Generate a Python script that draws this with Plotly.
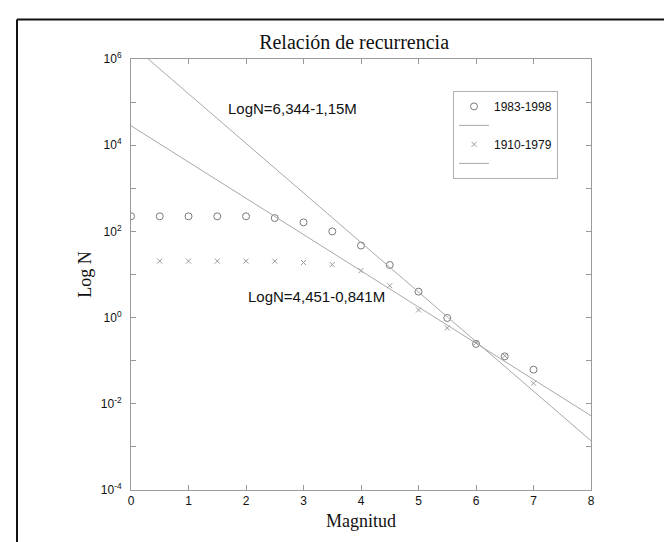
import plotly.graph_objects as go

# ---- data ----
mag_1983 = [0, 0.5, 1, 1.5, 2, 2.5, 3, 3.5, 4, 4.5, 5, 5.5, 6, 6.5, 7]
n_1983 = [224, 224, 224, 224, 224, 204, 162, 100, 47, 16.6, 4.0, 0.98, 0.245, 0.126, 0.062]

mag_1910 = [0.5, 1, 1.5, 2, 2.5, 3, 3.5, 4, 4.5, 5, 5.5, 6, 6.5, 7]
n_1910 = [20.4, 20.4, 20.4, 20.4, 20.4, 19, 17, 12.3, 5.5, 1.5, 0.575, 0.257, 0.13, 0.030]

# regression lines (endpoints at M=0 and M=8)
fit_mag = [0, 8]
fit_1983 = [2.21e6, 1.39e-3]    # LogN = 6,344 - 1,15M
fit_1910 = [2.82e4, 5.28e-3]    # LogN = 4,451 - 0,841M

y_tickvals = [1e-4, 1e-2, 1, 1e2, 1e4, 1e6]
y_ticktext = ["10<sup>-4</sup>", "10<sup>-2</sup>", "10<sup>0</sup>",
              "10<sup>2</sup>", "10<sup>4</sup>", "10<sup>6</sup>"]
y_minorvals = [1e-3, 1e-1, 1e1, 1e3, 1e5]
x_tickvals = [0, 1, 2, 3, 4, 5, 6, 7, 8]

SANS = "Liberation Sans, Arial, sans-serif"
SERIF = "Liberation Serif, Times New Roman, serif"

fig = go.Figure()
fig.add_trace(go.Scatter(x=mag_1983, y=n_1983, mode="markers", name="1983-1998",
                         marker=dict(symbol="circle-open", size=7, color="#7a7a7a",
                                     line=dict(width=1, color="#7a7a7a"))))
fig.add_trace(go.Scatter(x=fit_mag, y=fit_1983, mode="lines", name=" ",
                         line=dict(color="#a8a8a8", width=1)))
fig.add_trace(go.Scatter(x=mag_1910, y=n_1910, mode="markers", name="1910-1979",
                         marker=dict(symbol="x-thin-open", size=5, color="#9a9a9a",
                                     line=dict(width=1, color="#9a9a9a"))))
fig.add_trace(go.Scatter(x=fit_mag, y=fit_1910, mode="lines", name=" ",
                         line=dict(color="#a8a8a8", width=1)))

axis_common = dict(showgrid=False, zeroline=False, showline=True, linecolor="#9a9a9a",
                   linewidth=1, mirror="ticks", ticks="inside", ticklen=5,
                   tickcolor="#9a9a9a", tickfont=dict(family=SANS, size=12, color="#111"))

fig.update_xaxes(range=[0, 8], tickvals=x_tickvals,
                 title=dict(text="Magnitud", font=dict(family=SERIF, size=18, color="#111"),
                            standoff=6),
                 **axis_common)
fig.update_yaxes(type="log", range=[-4, 6], tickvals=y_tickvals, ticktext=y_ticktext,
                 ticklabelstandoff=6,
                 minor=dict(tickvals=y_minorvals, ticks="inside", ticklen=5,
                            tickcolor="#9a9a9a", showgrid=False),
                 title=dict(text="Log N", font=dict(family=SERIF, size=18, color="#111"),
                            standoff=4),
                 **axis_common)

fig.add_annotation(text="LogN=6,344-1,15M", xref="paper", yref="paper",
                   x=0.2065, y=0.886, xanchor="left", yanchor="middle", showarrow=False,
                   font=dict(family=SANS, size=15, color="#111"))
fig.add_annotation(text="LogN=4,451-0,841M", xref="paper", yref="paper",
                   x=0.249, y=0.449, xanchor="left", yanchor="middle", showarrow=False,
                   font=dict(family=SANS, size=15, color="#111"))

# outer frame of the scanned figure
fig.add_shape(type="line", xref="paper", yref="paper", x0=-0.2478, x1=-0.2478,
              y0=-0.1357, y1=1.0917, line=dict(color="#111", width=2))
fig.add_shape(type="line", xref="paper", yref="paper", x0=-0.2478, x1=1.25,
              y0=1.0917, y1=1.0917, line=dict(color="#111", width=2))
fig.add_shape(type="line", xref="paper", yref="paper", x0=-0.2478, x1=1.25,
              y0=-0.1357, y1=-0.1357, line=dict(color="#bbbbbb", width=1))

fig.update_layout(
    width=672, height=542,
    margin=dict(l=123, r=89, t=51, b=60),
    paper_bgcolor="white", plot_bgcolor="white",
    title=dict(text="Relación de recurrencia", x=0.485, xanchor="center",
               xref="paper", y=1 - 34 / 542, yanchor="middle",
               font=dict(family=SERIF, size=20, color="#111")),
    showlegend=True,
    legend=dict(x=0.70, y=0.926, xanchor="left", yanchor="top",
                bgcolor="white", bordercolor="#b0b0b0", borderwidth=1,
                font=dict(family=SANS, size=12, color="#111"),
                traceorder="normal", tracegroupgap=0, itemwidth=30),
)

fig.write_html("out.html")
